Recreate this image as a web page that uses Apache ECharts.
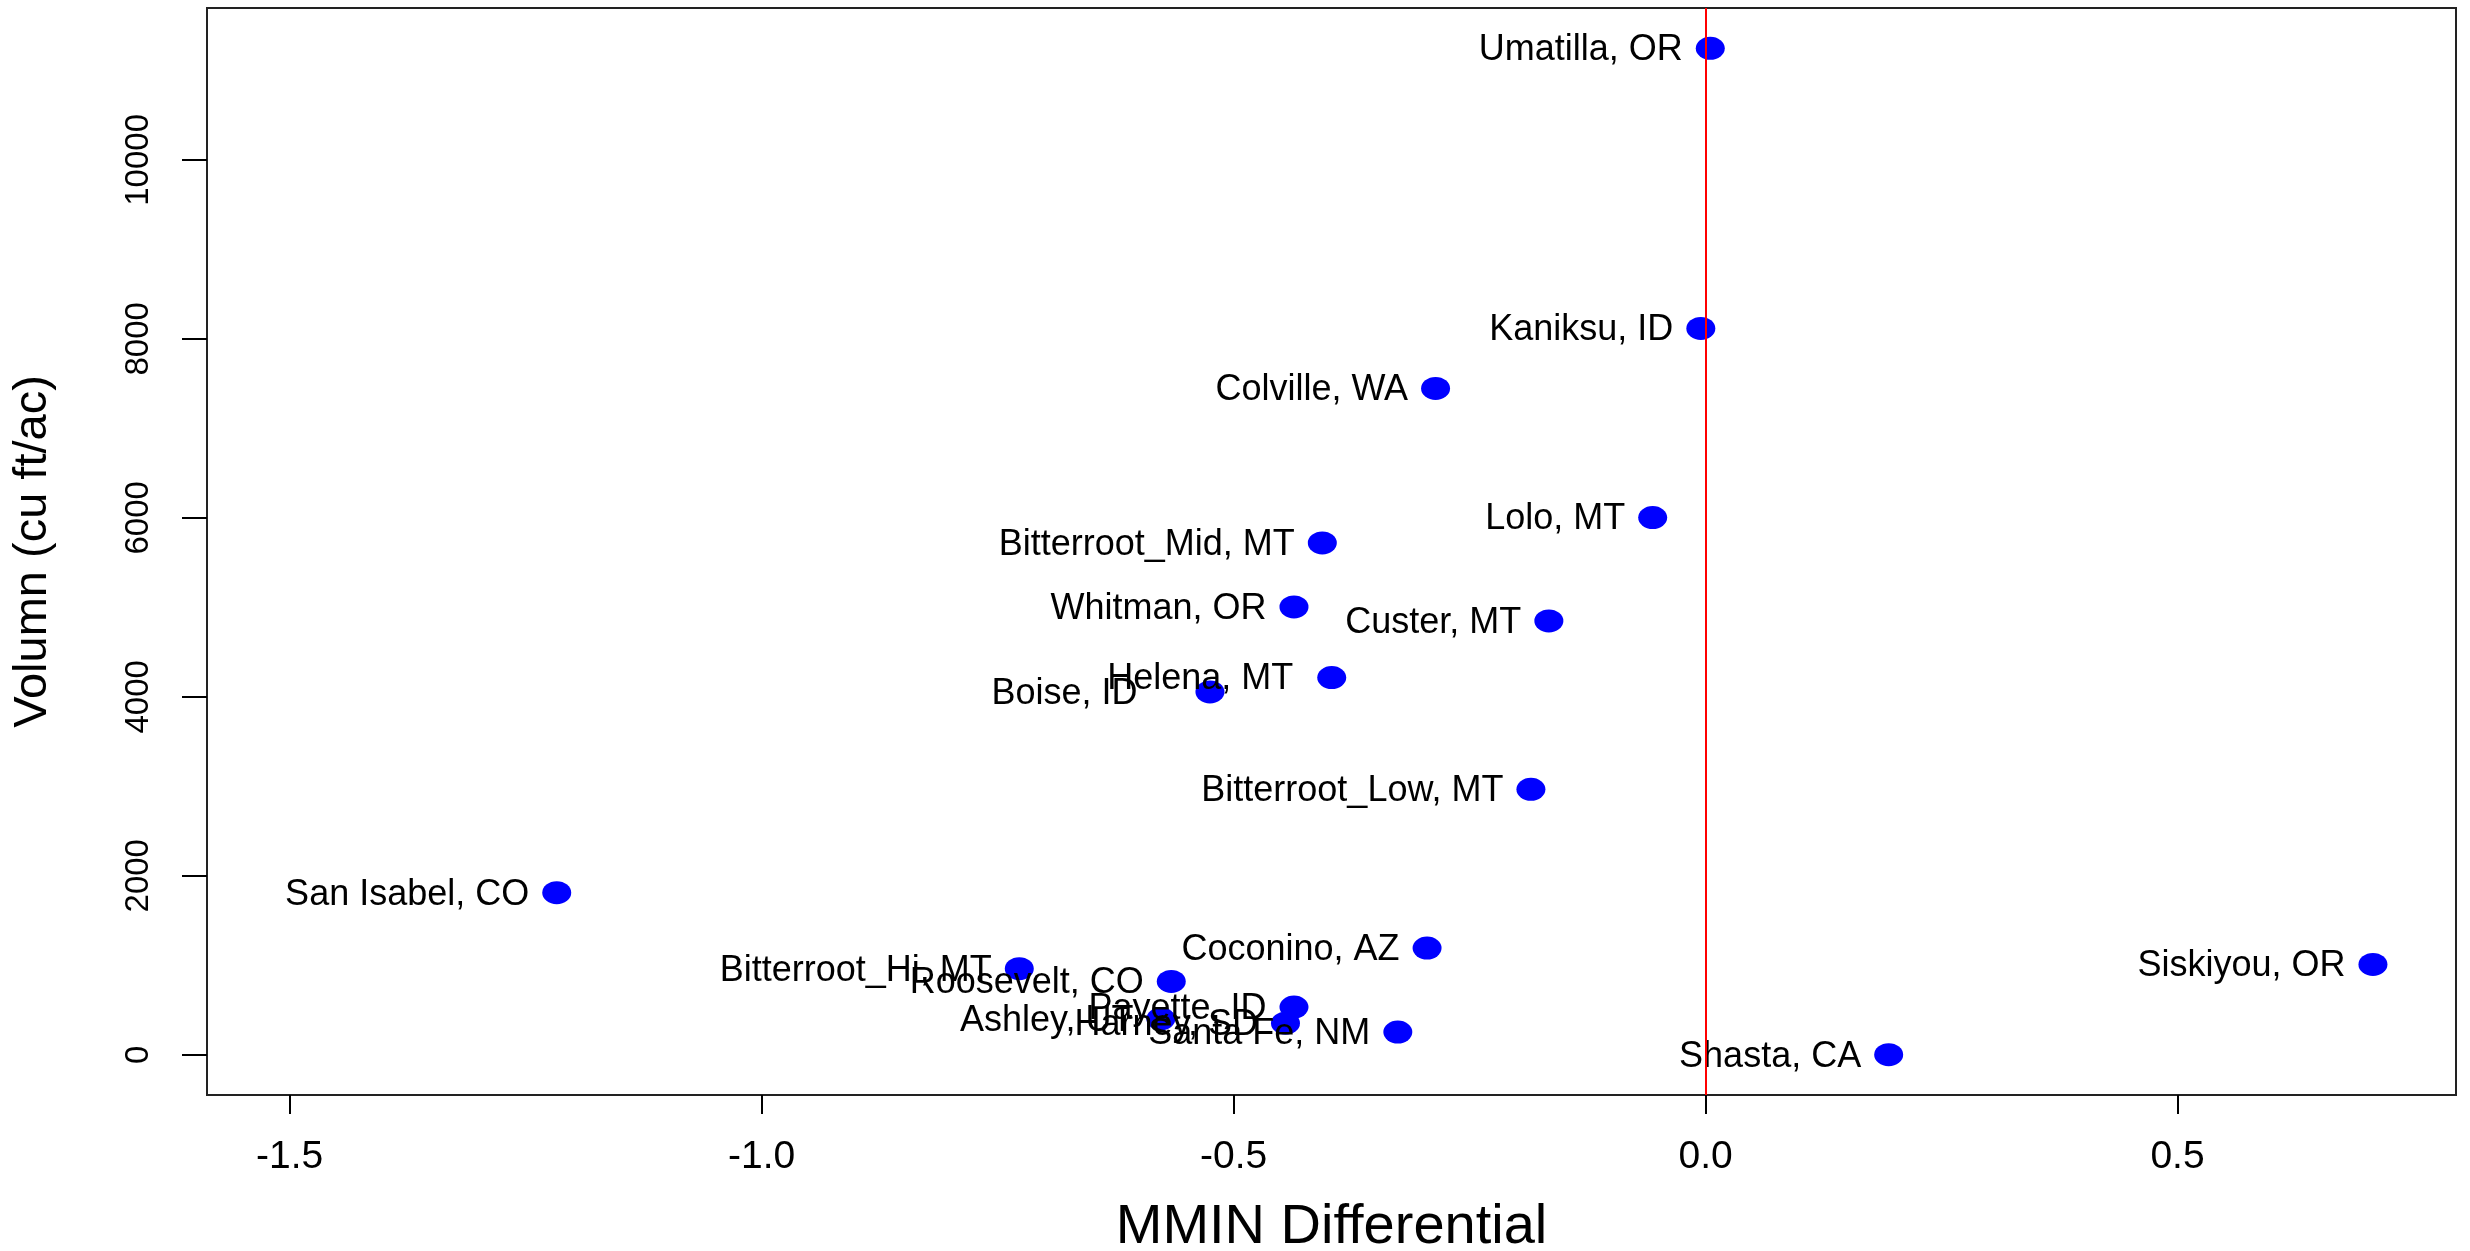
<!DOCTYPE html>
<html>
<head>
<meta charset="utf-8">
<script src="https://cdn.jsdelivr.net/npm/echarts@6/dist/echarts.min.js"></script>
<style>
html,body{margin:0;padding:0;background:#ffffff;}
#chart{width:2470px;height:1251px;}
</style>
</head>
<body>
<div id="chart"></div>
<script>
// ---- data ----
const forests = [
  "Umatilla, OR", "Kaniksu, ID", "Colville, WA", "Lolo, MT", "Bitterroot_Mid, MT",
  "Whitman, OR", "Custer, MT", "Helena, MT", "Boise, ID", "Bitterroot_Low, MT",
  "San Isabel, CO", "Coconino, AZ", "Siskiyou, OR", "Bitterroot_Hi, MT", "Roosevelt, CO",
  "Payette, ID", "Ashley, UT", "Harney, SD", "Santa Fe, NM", "Shasta, CA"
];
const mminDiff = [
  0.005, -0.005, -0.286, -0.056, -0.406,
  -0.436, -0.166, -0.396, -0.525, -0.185,
  -1.217, -0.295, 0.707, -0.727, -0.566,
  -0.436, -0.577, -0.445, -0.326, 0.194
];
const volume = [
  11247, 8116, 7446, 6003, 5719,
  5004, 4847, 4215, 4054, 2966,
  1811, 1192, 1009, 961, 819,
  532, 402, 353, 253, 0
];
const xTicks = [-1.5, -1.0, -0.5, 0.0, 0.5];
const yTicks = [0, 2000, 4000, 6000, 8000, 10000];
const refLineX = [0];

// ---- styling ----
const FONT = "'Liberation Sans', Arial, Helvetica, sans-serif";
const labelGap = { "Boise, ID": 58, "Helena, MT": 24 };

const points = forests.map((name, i) => ({
  name: name,
  value: [mminDiff[i], volume[i]],
  label: { distance: labelGap[name] !== undefined ? labelGap[name] : 13 }
}));

const chart = echarts.init(document.getElementById('chart'), null, { renderer: 'canvas' });
chart.setOption({
  animation: false,
  backgroundColor: '#ffffff',
  grid: {
    show: true, left: 207, right: 14, top: 8, bottom: 156,
    containLabel: false, outerBoundsMode: 'none',
    borderColor: '#222222', borderWidth: 2, backgroundColor: 'transparent'
  },
  xAxis: {
    type: 'value', min: -1.5875, max: 0.795,
    name: 'MMIN Differential', nameLocation: 'middle', nameGap: 105,
    nameTextStyle: { fontFamily: FONT, fontSize: 56, color: '#000' },
    axisLine: { show: false, onZero: false },
    axisTick: { show: true, customValues: xTicks, length: 19, inside: false,
                lineStyle: { color: '#000', width: 2 } },
    axisLabel: { show: true, customValues: xTicks, margin: 43,
                 fontFamily: FONT, fontSize: 39, color: '#000',
                 formatter: v => v.toFixed(1) },
    splitLine: { show: false }
  },
  yAxis: {
    type: 'value', min: -450, max: 11697,
    name: 'Volumn (cu ft/ac)', nameLocation: 'middle', nameGap: 150, nameRotate: 90,
    nameTextStyle: { fontFamily: FONT, fontSize: 47, color: '#000' },
    axisLine: { show: false, onZero: false },
    axisTick: { show: true, customValues: yTicks, length: 25, inside: false,
                lineStyle: { color: '#000', width: 2 } },
    axisLabel: { show: true, customValues: yTicks, margin: 52, rotate: 90,
                 fontFamily: FONT, fontSize: 33, color: '#000',
                 formatter: v => String(v) },
    splitLine: { show: false }
  },
  series: [
    {
      type: 'line', data: [], z: 1, silent: true,
      markLine: {
        silent: true, symbol: ['none', 'none'], animation: false,
        label: { show: false },
        lineStyle: { color: '#FF0000', width: 2, type: 'solid' },
        data: refLineX.map(v => ({ xAxis: v }))
      }
    },
    {
      type: 'scatter', z: 3,
      symbol: 'circle', symbolSize: [29, 23],
      itemStyle: { color: '#0000FF', opacity: 1 },
      label: {
        show: true, position: 'left', formatter: '{b}', offset: [0, 2],
        fontFamily: FONT, fontSize: 36, color: '#000'
      },
      emphasis: { disabled: true },
      data: points
    }
  ]
});
</script>
</body>
</html>
